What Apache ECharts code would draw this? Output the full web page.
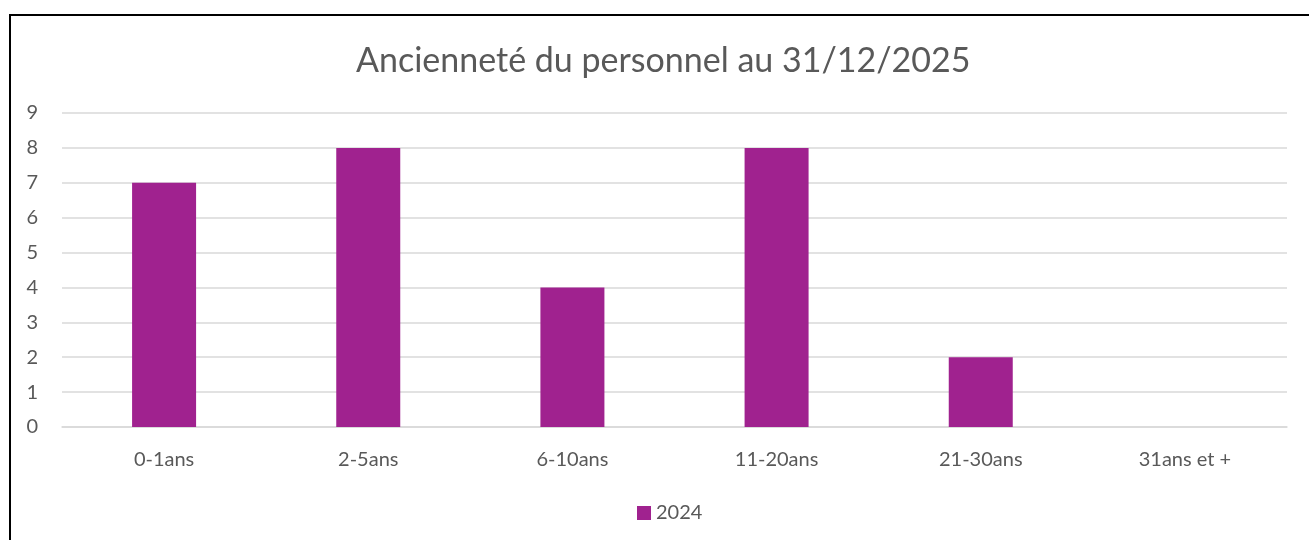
<!DOCTYPE html>
<html>
<head>
<meta charset="utf-8">
<script src="https://cdn.jsdelivr.net/npm/echarts@6/dist/echarts.min.js"></script>
<style>
  html, body { margin: 0; padding: 0; background: #fff; }
  .frame {
    position: absolute; left: 9px; top: 14px;
    width: 1320px; height: 560px;
    border-left: 2px solid #000; border-top: 2px solid #000;
  }
  #chart { position: absolute; left: 0; top: 0; width: 1309px; height: 540px; }
</style>
</head>
<body>
<div class="frame"></div>
<div id="chart"></div>
<script>
const categories = ['0-1ans', '2-5ans', '6-10ans', '11-20ans', '21-30ans', '31ans et +'];
const values2024 = [7, 8, 4, 8, 2, 0];
const seriesName = '2024';

const chart = echarts.init(document.getElementById('chart'));
const font = 'Lato, "Open Sans", sans-serif';

chart.setOption({
  animation: false,
  textStyle: { fontFamily: font },
  title: {
    text: 'Ancienneté du personnel au 31/12/2025',
    left: 351,
    top: 39,
    textStyle: { fontFamily: font, fontSize: 34, fontWeight: 'normal', color: '#595959' }
  },
  grid: { left: 62, right: 22, top: 113, bottom: 113 },
  xAxis: {
    type: 'category',
    data: categories,
    axisLine: { lineStyle: { color: '#d9d9d9', width: 1.5 } },
    axisTick: { show: false },
    axisLabel: { color: '#595959', fontSize: 20, margin: 23, fontFamily: font }
  },
  yAxis: {
    type: 'value',
    min: 0, max: 9, interval: 1,
    axisLine: { show: false },
    axisTick: { show: false },
    axisLabel: { color: '#595959', fontSize: 20, margin: 24, fontFamily: font },
    splitLine: { lineStyle: { color: '#d9d9d9', width: 1.5 } }
  },
  legend: {
    bottom: 12,
    left: 632,
    itemWidth: 14, itemHeight: 14,
    itemGap: 6,
    icon: 'rect',
    textStyle: { color: '#595959', fontSize: 20, fontFamily: font },
    data: [seriesName]
  },
  series: [{
    name: seriesName,
    type: 'bar',
    data: values2024,
    barWidth: 64,
    itemStyle: { color: '#A0228F' }
  }]
});
</script>
</body>
</html>
